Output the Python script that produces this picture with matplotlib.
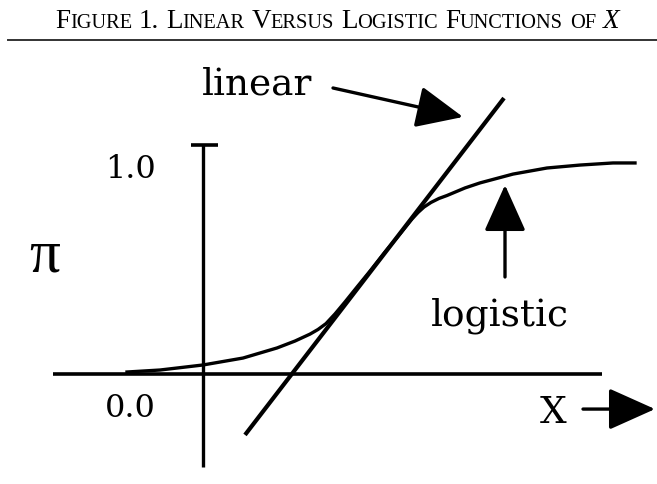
import matplotlib.pyplot as plt
from matplotlib.lines import Line2D

# logistic curve (x in arbitrary units, pi in 0..1)
logistic_x = [-1.9, -1.075, 0.0, 1.0, 1.85, 2.3, 2.675, 2.875, 3.075, 3.3, 3.55,
              3.85, 4.175, 4.55, 4.925, 5.225, 5.375, 5.525, 5.7, 5.9, 6.1, 6.55,
              6.925, 7.75, 8.6, 9.425, 10.25, 10.8]
logistic_pi = [0.0095, 0.019, 0.043, 0.076, 0.124, 0.157, 0.190, 0.212, 0.240, 0.286,
               0.343, 0.414, 0.490, 0.581, 0.667, 0.738, 0.769, 0.795, 0.817, 0.836,
               0.850, 0.886, 0.910, 0.952, 0.981, 0.995, 1.005, 1.005]

# straight line (two end points)
linear_x = [1.05, 7.525]
linear_pi = [-0.29, 1.314]

tick_labels = ["0.0", "1.0"]
tick_values = [0.0, 1.0]

W, H = 657, 484
fig = plt.figure(figsize=(W / 100, H / 100), dpi=100)
ax = fig.add_axes([0, 0, 1, 1])
ax.set_xlim(-5.075, 11.35)
ax.set_ylim(-0.5238, 1.781)
ax.axis('off')

serif = 'DejaVu Serif'

# axes drawn by hand, like in the paper
ax.plot([-3.75, 9.975], [0, 0], color='black', lw=2.6, solid_capstyle='butt')
ax.plot([0, 0], [-0.443, 1.09], color='black', lw=2.4, solid_capstyle='butt')
ax.plot([-0.3, 0.375], [1.09, 1.09], color='black', lw=2.6, solid_capstyle='butt')

ax.plot(logistic_x, logistic_pi, color='black', lw=2.4, solid_joinstyle='round')
ax.plot(linear_x, linear_pi, color='black', lw=3.0, solid_capstyle='butt')

# labels
for lab, v in zip(tick_labels, tick_values):
    yy = -0.205 if v == 0 else 0.933
    ax.text(-1.82, yy, lab, ha='center', va='baseline', fontsize=23, family=serif)
ax.text(-3.95, 0.486, 'π', ha='center', va='baseline', fontsize=44,
        family='Liberation Serif')
ax.text(1.36, 1.329, 'linear', ha='center', va='baseline', fontsize=27, family=serif)
ax.text(7.43, 0.233, 'logistic', ha='center', va='baseline', fontsize=27, family=serif)
ax.text(8.75, -0.233, 'X', ha='center', va='baseline', fontsize=27, family=serif)

arr = dict(arrowstyle='-|>,head_length=1.45,head_width=0.65', mutation_scale=20,
           lw=2.4, color='black', shrinkA=0, shrinkB=0)
ax.annotate('', xy=(6.5, 1.224), xytext=(3.25, 1.362), arrowprops=arr)
ax.annotate('', xy=(7.55, 0.9), xytext=(7.55, 0.462), arrowprops=arr)
ax.annotate('', xy=(11.3, -0.167), xytext=(9.5, -0.167), arrowprops=arr)

# title in small caps, pieces placed one after another
big, small = 19.5, 14.7
title = "FIGURE 1. LINEAR VERSUS LOGISTIC FUNCTIONS OF X"
pieces = []
for w in title.split():
    if w == "X":
        pieces.append((w, big, 'italic'))
    elif w == "OF":
        pieces.append((w, small, 'normal'))
    elif w[0].isalpha():
        pieces.append((w[0], big, 'normal'))
        pieces.append((w[1:], small, 'normal'))
    else:
        pieces.append((w, big, 'normal'))
    pieces.append((None, 0, ''))

renderer = fig.canvas.get_renderer()
x = 55 / W
y = 1 - 28 / H
gap = 0.25 * big * 100 / 72 / W
for txt, size, st in pieces[:-1]:
    if txt is None:
        x += gap
        continue
    t = fig.text(x, y, txt, fontsize=size, family='Liberation Serif', style=st,
                 ha='left', va='baseline')
    x += t.get_window_extent(renderer).width / W

fig.add_artist(Line2D([8 / W, 1], [1 - 39.5 / H] * 2, color='#333333', lw=1.4))

fig.savefig('out.png', dpi=100)
